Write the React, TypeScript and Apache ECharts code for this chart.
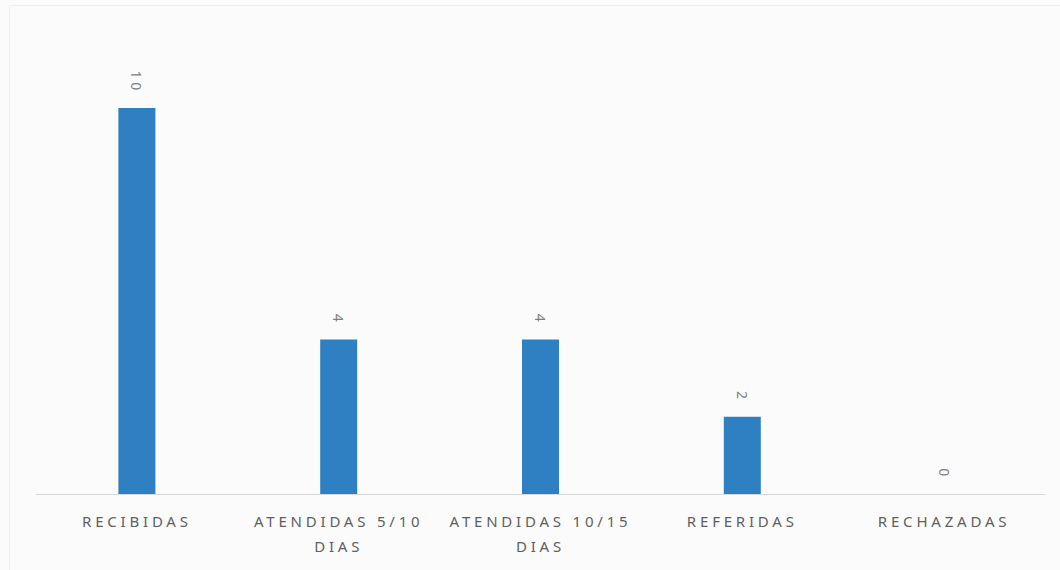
import React, { useEffect, useRef } from "react";
import * as echarts from "echarts";

const categories = ["RECIBIDAS", "ATENDIDAS 5/10 DIAS", "ATENDIDAS 10/15 DIAS", "REFERIDAS", "RECHAZADAS"];
const values = [10, 4, 4, 2, 0];

export default function App() {
  const ref = useRef<HTMLDivElement>(null);
  useEffect(() => {
    if (!ref.current) return;
    const chart = echarts.init(ref.current, undefined, { renderer: "svg" });
    chart.setOption({
      animation: false,
      backgroundColor: "#fbfbfb",
      graphic: [
        {
          type: "rect",
          shape: { x: 9.5, y: 5.5, width: 1100, height: 600 },
          style: { fill: "none", stroke: "#f0f0f0", lineWidth: 1 },
          silent: true,
        },
      ],
      grid: { left: 36, right: 15, top: 108, bottom: 76 },
      xAxis: {
        type: "category",
        data: categories,
        axisLine: { show: true, lineStyle: { color: "#d9d9d9", width: 1 } },
        axisTick: { show: false },
        axisLabel: {
          interval: 0,
          margin: 14,
          color: "#5f5f5f",
          fontSize: 15,
          fontFamily: "Noto Sans",
          lineHeight: 25,
          formatter: (v: string) => v.replace(/ DIAS$/, "\nDIAS"),
        },
      },
      yAxis: {
        type: "value",
        min: 0,
        max: 10,
        show: false,
        splitLine: { show: false },
      },
      series: [
        {
          type: "bar",
          data: values,
          barWidth: 37,
          itemStyle: { color: "#2e80c2" },
          label: {
            show: true,
            position: "top",
            rotate: -90,
            align: "right",
            verticalAlign: "middle",
            distance: 14,
            color: "#808080",
            fontSize: 14,
            fontFamily: "Noto Sans",
          },
        },
      ],
    });
    return () => chart.dispose();
  }, []);
  return (
    <>
      <style>{`#chartbox svg text { letter-spacing: 3.8px; }`}</style>
      <div
        id="chartbox"
        ref={ref}
        style={{ position: "fixed", left: 0, top: 0, width: 1060, height: 570 }}
      />
    </>
  );
}
